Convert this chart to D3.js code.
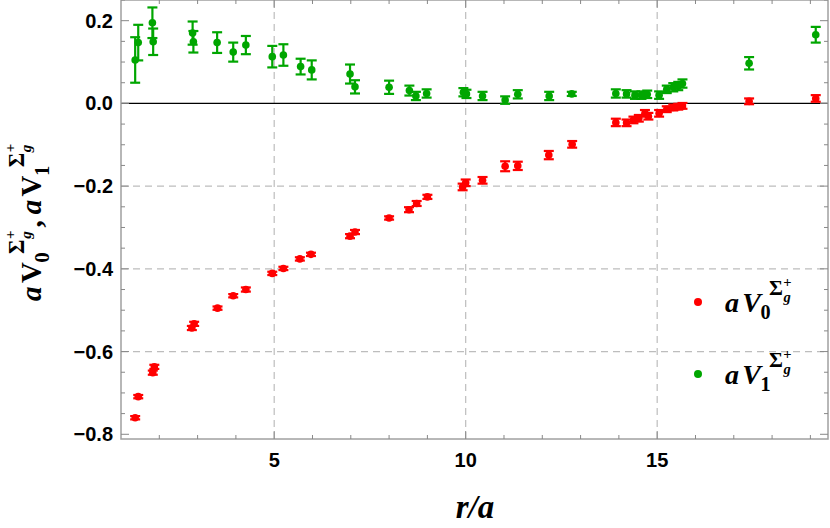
<!DOCTYPE html>
<meta charset="utf-8">
<script src="https://d3js.org/d3.v7.min.js"></script>
<style>
  body { margin: 0; background: #fff; }
  .tick-label { font-family: "Liberation Sans", Arial, sans-serif; font-weight: bold; font-size: 20px; fill: #000; }
  .math { font-family: "Liberation Serif", "Times New Roman", serif; font-weight: bold; fill: #000; }
</style>
<svg id="chart" width="830" height="528"></svg>
<script>
// V0 (red) data: r/a, value, error
const r0 = [1.37, 1.45, 1.83, 1.87, 2.85, 2.91, 3.52, 3.93, 4.26, 4.95, 5.24, 5.67, 5.96,
  6.98, 7.11, 8.00, 8.52, 8.72, 9.00, 9.92, 10.00, 10.44, 11.03, 11.36, 12.17, 12.78,
  13.92, 14.20, 14.38, 14.52, 14.68, 14.77, 15.05, 15.25, 15.42, 15.55, 15.66, 17.40, 19.14];
const v0 = [-0.760, -0.709, -0.651, -0.637, -0.543, -0.533, -0.495, -0.465, -0.450, -0.411, -0.399, -0.376, -0.365,
  -0.321, -0.311, -0.277, -0.257, -0.242, -0.226, -0.202, -0.192, -0.186, -0.152, -0.151, -0.125, -0.099,
  -0.046, -0.047, -0.040, -0.036, -0.024, -0.031, -0.024, -0.014, -0.010, -0.008, -0.006, 0.005, 0.012];
const e0 = [0.004, 0.004, 0.005, 0.005, 0.005, 0.005, 0.004, 0.004, 0.005, 0.004, 0.004, 0.004, 0.004,
  0.005, 0.005, 0.004, 0.006, 0.006, 0.005, 0.008, 0.008, 0.008, 0.012, 0.010, 0.010, 0.008,
  0.009, 0.008, 0.008, 0.008, 0.008, 0.008, 0.008, 0.007, 0.007, 0.007, 0.007, 0.007, 0.008];

// V1 (green) data
const r1 = [1.37, 1.45, 1.82, 1.84, 2.87, 2.89, 3.51, 3.93, 4.26, 4.95, 5.24, 5.69, 5.98,
  6.98, 7.11, 8.00, 8.53, 8.70, 8.98, 9.94, 10.02, 10.44, 11.03, 11.36, 12.18, 12.77,
  13.92, 14.20, 14.42, 14.59, 14.74, 15.05, 15.25, 15.42, 15.55, 15.66, 17.40, 19.14];
const v1 = [0.105, 0.147, 0.195, 0.149, 0.170, 0.149, 0.147, 0.124, 0.141, 0.113, 0.117, 0.089, 0.081,
  0.071, 0.040, 0.039, 0.031, 0.018, 0.024, 0.027, 0.023, 0.018, 0.008, 0.022, 0.018, 0.023,
  0.024, 0.023, 0.020, 0.020, 0.022, 0.020, 0.034, 0.039, 0.042, 0.048, 0.097, 0.166];
const e1 = [0.055, 0.043, 0.037, 0.032, 0.028, 0.026, 0.025, 0.023, 0.022, 0.026, 0.026, 0.019, 0.023,
  0.023, 0.016, 0.016, 0.012, 0.010, 0.010, 0.010, 0.010, 0.010, 0.009, 0.010, 0.010, 0.005,
  0.010, 0.009, 0.009, 0.009, 0.009, 0.009, 0.009, 0.010, 0.010, 0.010, 0.015, 0.019];

const xTicks = [5, 10, 15];
const yTicks = [0.2, 0.0, -0.2, -0.4, -0.6, -0.8];
const xGrid = [5, 10, 15];
const yGrid = [-0.2, -0.4, -0.6];

const RED = "#ff0000", GREEN = "#00a600";

const svg = d3.select("#chart");
const x = d3.scaleLinear().domain([1, 19.46]).range([121, 828]);
const y = d3.scaleLinear().domain([-0.8114, 0.25]).range([439, 0]);
const [x0, x1] = x.range(), [y0, y1] = y.range();

// grid lines
svg.append("g").selectAll("line").data(xGrid).join("line")
  .attr("x1", d => x(d)).attr("x2", d => x(d)).attr("y1", y0).attr("y2", y1)
  .attr("stroke", "#bdbdbd").attr("stroke-width", 1.2).attr("stroke-dasharray", "7,5");
svg.append("g").selectAll("line").data(yGrid).join("line")
  .attr("y1", d => y(d)).attr("y2", d => y(d)).attr("x1", x0).attr("x2", x1)
  .attr("stroke", "#bdbdbd").attr("stroke-width", 1.2).attr("stroke-dasharray", "7,5");

// zero line
svg.append("line").attr("x1", x0).attr("x2", x1).attr("y1", y(0)).attr("y2", y(0))
  .attr("stroke", "#000").attr("stroke-width", 1.2);

// frame
svg.append("rect").attr("x", x0).attr("y", y1).attr("width", x1 - x0).attr("height", y0 - y1)
  .attr("fill", "none").attr("stroke", "#a0a0a0").attr("stroke-width", 1.5);

// ticks
const xMinor = d3.range(2, 20);
const yMinor = d3.range(-16, 6).map(i => i * 0.05);
const isMajorX = d => xTicks.includes(d);
const isMajorY = d => yTicks.some(t => Math.abs(t - d) < 1e-9);
const tk = svg.append("g").attr("stroke", "#888").attr("stroke-width", 1);
tk.selectAll(".xb").data(xMinor).join("line")
  .attr("x1", d => x(d)).attr("x2", d => x(d)).attr("y1", y0).attr("y2", d => y0 - (isMajorX(d) ? 8 : 4));
tk.selectAll(".xt").data(xMinor).join("line")
  .attr("x1", d => x(d)).attr("x2", d => x(d)).attr("y1", y1).attr("y2", d => y1 + (isMajorX(d) ? 8 : 4));
tk.selectAll(".yl").data(yMinor).join("line")
  .attr("y1", d => y(d)).attr("y2", d => y(d)).attr("x1", x0).attr("x2", d => x0 + (isMajorY(d) ? 8 : 4));
tk.selectAll(".yr").data(yMinor).join("line")
  .attr("y1", d => y(d)).attr("y2", d => y(d)).attr("x1", x1).attr("x2", d => x1 - (isMajorY(d) ? 8 : 4));

// tick labels
svg.append("g").selectAll("text").data(xTicks).join("text")
  .attr("class", "tick-label").attr("x", d => x(d)).attr("y", 467).attr("text-anchor", "middle")
  .text(d => d);
svg.append("g").selectAll("text").data(yTicks).join("text")
  .attr("class", "tick-label").attr("x", 113).attr("y", d => y(d) + 7).attr("text-anchor", "end")
  .text(d => d3.format(".1f")(d).replace("-", "\u2212"));

// error bars + points
function series(rs, vs, es, color) {
  const d = rs.map((r, i) => ({ r, v: vs[i], e: es[i] }));
  const g = svg.append("g").attr("stroke", color).attr("stroke-width", 2.2);
  g.selectAll(".bar").data(d).join("line")
    .attr("x1", p => x(p.r)).attr("x2", p => x(p.r))
    .attr("y1", p => y(p.v - p.e)).attr("y2", p => y(p.v + p.e));
  g.selectAll(".capt").data(d).join("line")
    .attr("x1", p => x(p.r) - 5).attr("x2", p => x(p.r) + 5)
    .attr("y1", p => y(p.v + p.e)).attr("y2", p => y(p.v + p.e));
  g.selectAll(".capb").data(d).join("line")
    .attr("x1", p => x(p.r) - 5).attr("x2", p => x(p.r) + 5)
    .attr("y1", p => y(p.v - p.e)).attr("y2", p => y(p.v - p.e));
  svg.append("g").selectAll("circle").data(d).join("circle")
    .attr("cx", p => x(p.r)).attr("cy", p => y(p.v)).attr("r", 3.8).attr("fill", color);
}
series(r1, v1, e1, GREEN);
series(r0, v0, e0, RED);

// math label  a V_n^{Σ_g^+}
function mathLabel(g, n, s, vItalic) {
  const t = g.append("text").attr("class", "math").attr("font-size", s);
  t.append("tspan").attr("font-style", "italic").text("a");
  t.append("tspan").attr("dx", s * 0.12).attr("font-style", vItalic ? "italic" : "normal").text("V");
  t.append("tspan").attr("font-size", s * 0.72).attr("dx", -s * 0.02).attr("dy", s * 0.26).text(n);
  t.append("tspan").attr("font-size", s * 0.76).attr("dx", -s * 0.06).attr("dy", -s * 0.86).text("\u03A3");
  t.append("tspan").attr("font-size", s * 0.52).attr("dx", s * 0.02).attr("dy", -s * 0.3).text("+");
  t.append("tspan").attr("font-size", s * 0.52).attr("font-style", "italic")
    .attr("dx", -s * 0.29).attr("dy", s * 0.56).text("g");
  return t;
}

// legend
const lg = svg.append("g");
lg.append("circle").attr("cx", 698).attr("cy", 302).attr("r", 4).attr("fill", RED);
lg.append("circle").attr("cx", 698).attr("cy", 374).attr("r", 4).attr("fill", GREEN);
mathLabel(lg.append("g").attr("transform", "translate(725,312)"), "0", 28, true);
mathLabel(lg.append("g").attr("transform", "translate(725,384)"), "1", 28, true);

// x axis title
svg.append("text").attr("class", "math").attr("font-size", 33).attr("font-style", "italic")
  .attr("x", 475).attr("y", 518).attr("text-anchor", "middle").text("r/a");

// y axis title
const yl = svg.append("g").attr("transform", "translate(41,301) rotate(-90)");
const a1 = mathLabel(yl.append("g"), "0", 29, false);
const w1 = a1.node().getBBox().width;
yl.append("text").attr("class", "math").attr("font-size", 29).attr("x", w1 + 3).text(",");
const g2 = yl.append("g").attr("transform", `translate(${w1 + 16},0)`);
mathLabel(g2, "1", 29, false);
</script>
